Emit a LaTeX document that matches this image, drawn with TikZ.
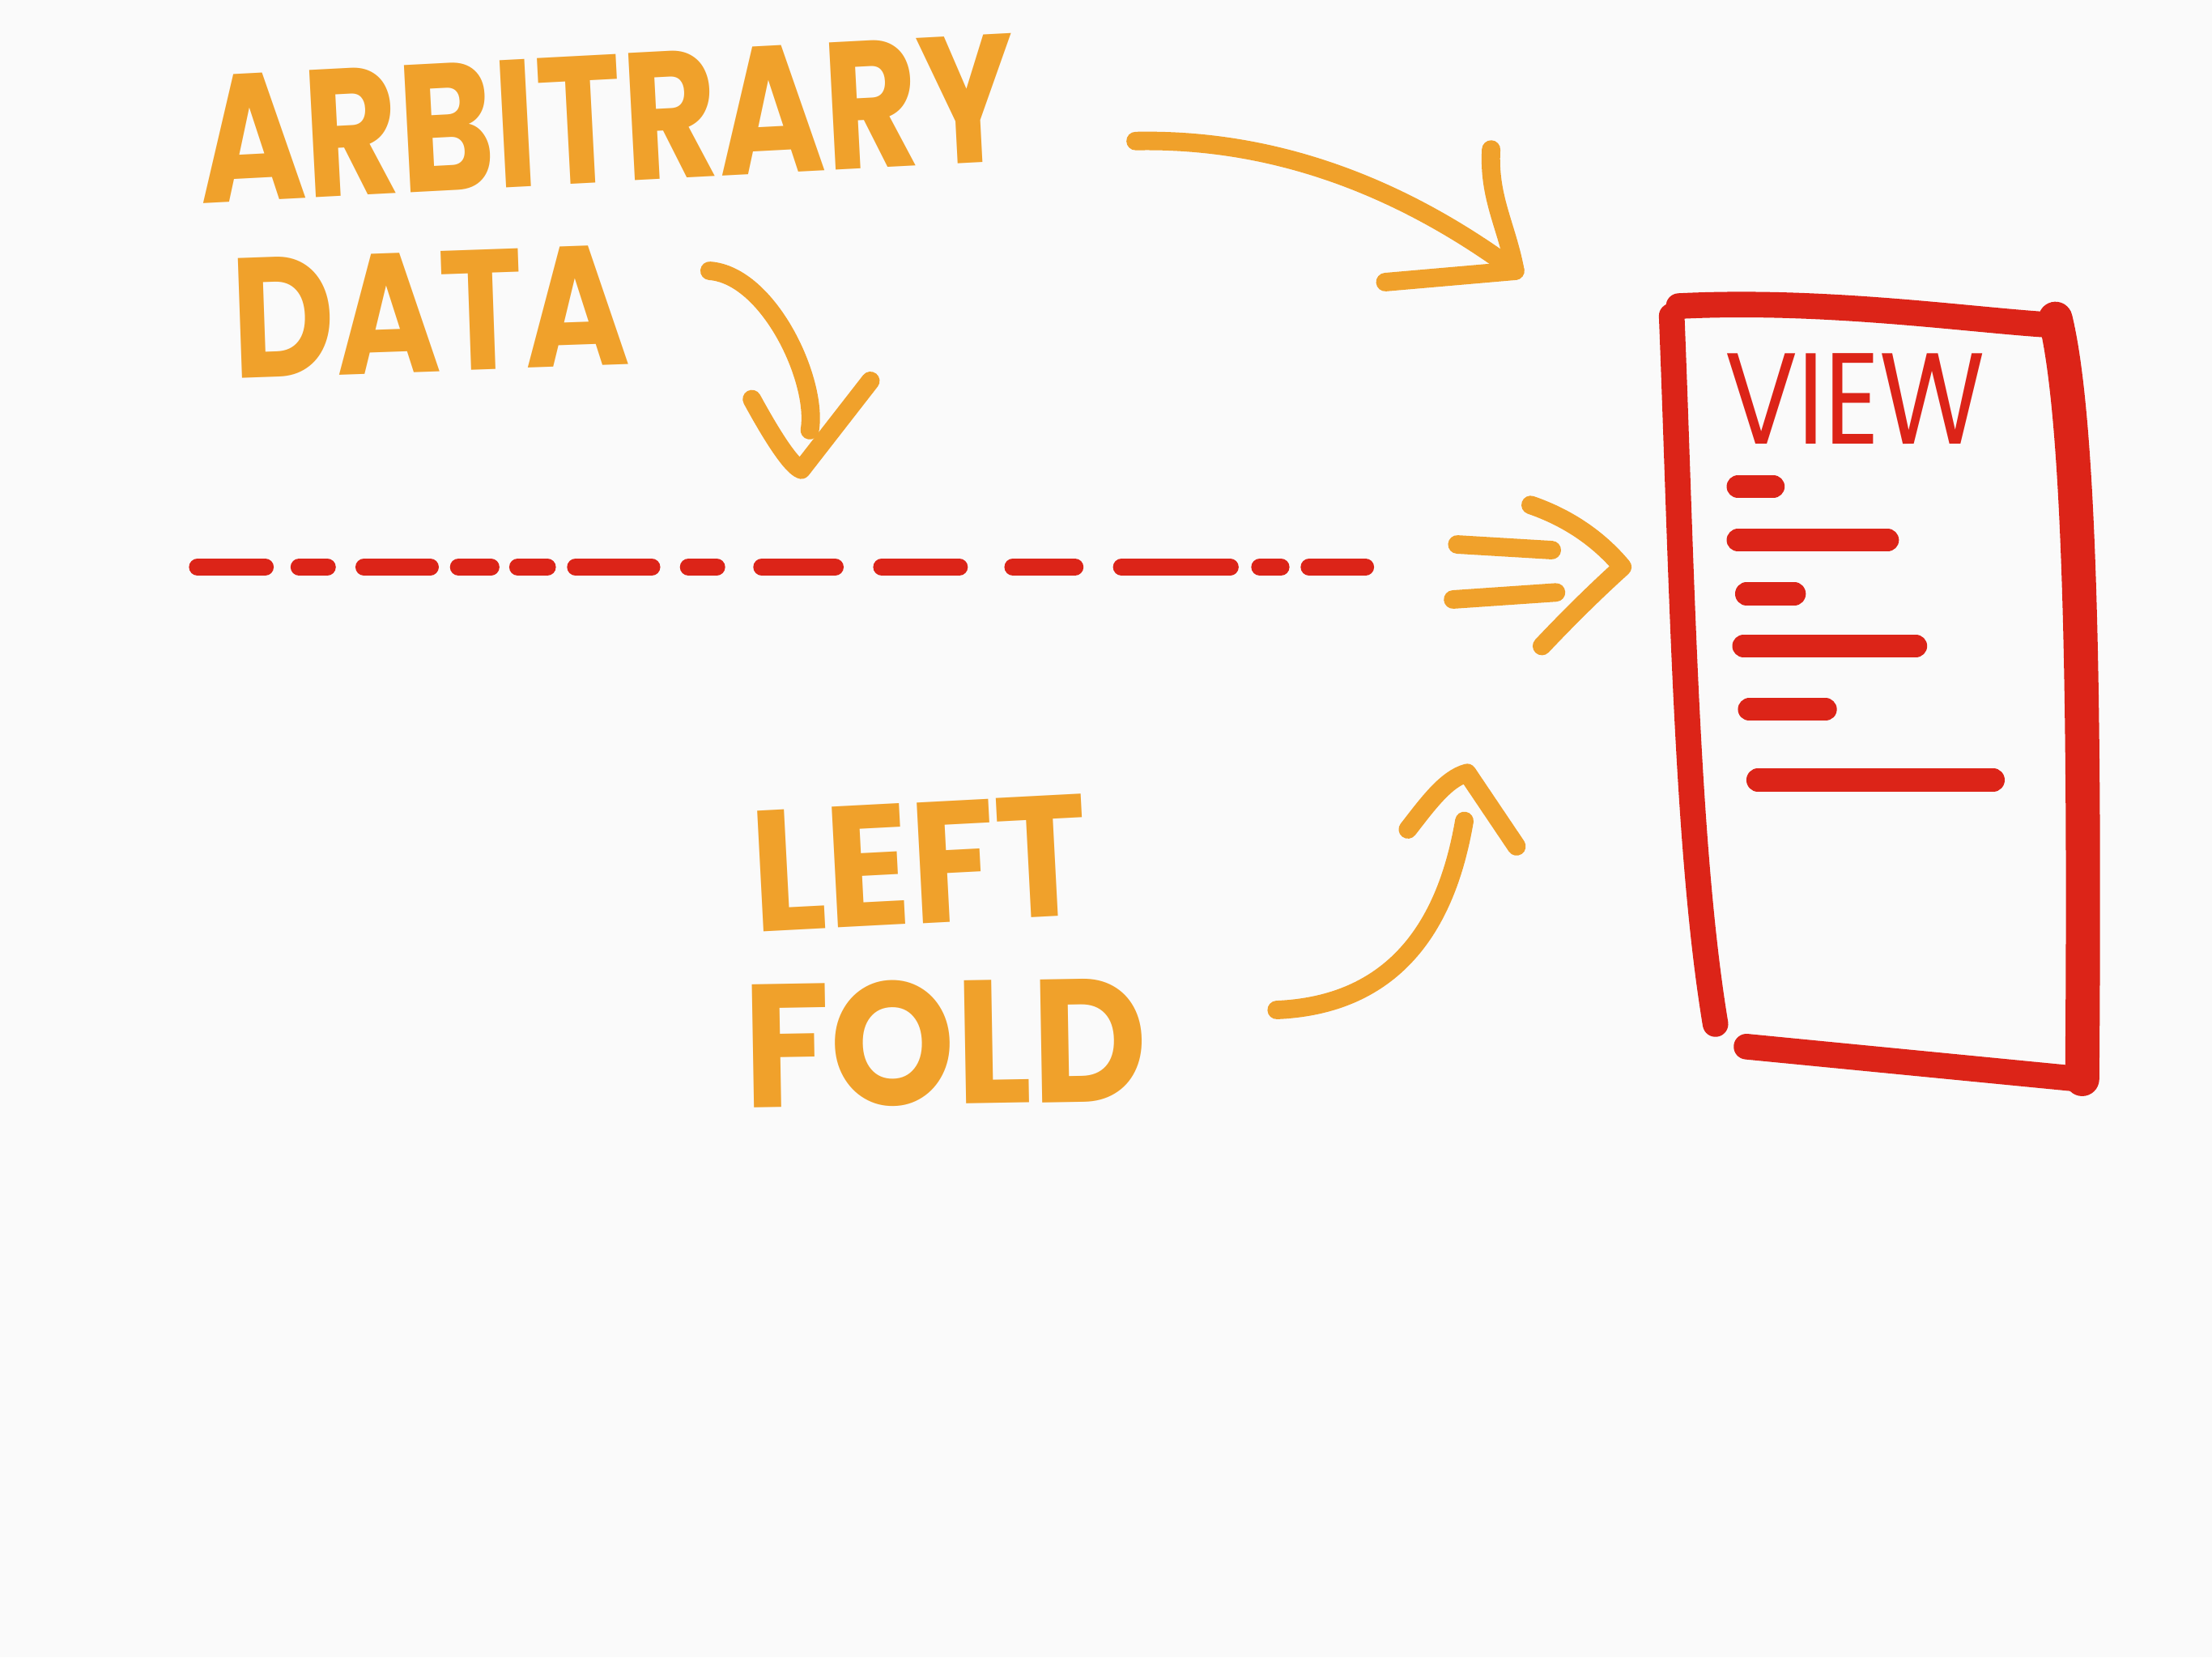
\documentclass[tikz,border=0pt]{standalone}
\usepackage{fontspec}
\setmainfont{Poppins}
\usetikzlibrary{calc}
\definecolor{paper}{HTML}{FAFAFA}
\definecolor{marker}{HTML}{F0A12B}
\definecolor{ink}{HTML}{DC2418}
\tikzset{
  word/.style={text=marker, inner sep=0pt},
  stroke/.style={draw=marker, line width=6.5pt, line cap=round, line join=round},
  dotline/.style={draw=ink, line width=6pt, line cap=round},
  bar/.style={draw=ink, line width=8pt, line cap=round},
  frame/.style={draw=ink, line width=9pt, line cap=round, line join=round}
}
\newcommand{\tall}[3]{\rotatebox{#1}{\scalebox{1}[#2]{#3}}}

\begin{document}
\begin{tikzpicture}[x=0.01742cm, y=-0.01742cm]
  \fill[paper] (0,0) rectangle (1568,1175);
  \useasboundingbox (0,0) rectangle (1568,1175);

  % labels
  \node[word, font=\fontsize{51}{51}\selectfont\bfseries] (arb) at (430,84) {\tall{3}{1.25}{ARBITRARY}};
  \node[word, font=\fontsize{50}{50}\selectfont\bfseries] (data) at (305,221) {\tall{2}{1.2}{DATA}};
  \node[word, font=\fontsize{55}{55}\selectfont\bfseries] (left) at (652,612) {\tall{3}{1.1}{LEFT}};
  \node[word, font=\fontsize{56}{56}\selectfont\bfseries] (fold) at (670,739) {\tall{1}{1.1}{FOLD}};
  \node[text=ink, font=\fontsize{38}{38}\selectfont, inner sep=0pt] (view) at (1315,283) {\scalebox{1}[1.2]{VIEW}};

  % view frame
  \draw[frame] (1190,217) .. controls (1290,212) and (1390,226) .. (1448,230);
  \draw[frame, line width=12pt] (1457,226) .. controls (1475,300) and (1478,500) .. (1476,765);
  \draw[frame] (1238,742) -- (1474,765);
  \draw[frame] (1185,224) .. controls (1192,400) and (1195,600) .. (1216,726);

  % lines inside the view
  \foreach \y/\a/\b in {345/1232/1257, 383/1232/1338, 421/1238/1272, 458/1236/1358, 503/1240/1294, 553/1246/1413}
    \draw[bar] (\a,\y) -- (\b,\y);

  % dashed data stream
  \foreach \a/\b in {140/188, 212/232, 258/305, 325/348, 367/388, 408/462, 488/508, 540/592, 625/680, 718/762, 795/872, 893/908, 928/968}
    \draw[dotline] (\a,402) -- (\b,402);

  % arrow arbitrary -> view
  \coordinate (t1) at (805,100);
  \coordinate (h1) at (1074,192);
  \draw[stroke] (t1) .. controls (900,98) and (990,130) .. (h1);
  \draw[stroke] (1057,106) .. controls (1055,140) and (1068,160) .. (h1) -- (982,200);

  % arrow data -> stream
  \coordinate (t2) at (503,192);
  \coordinate (h2) at (568,333);
  \draw[stroke] (t2) .. controls (545,195) and (580,270) .. (574,305);
  \draw[stroke] (533,283) .. controls (545,305) and (560,330) .. (h2) -- (617,270);

  % double arrow stream -> view
  \coordinate (h3) at (1150,402);
  \draw[stroke] (1033,386) -- (1100,390);
  \draw[stroke] (1030,425) -- (1103,420);
  \draw[stroke] (1085,358) .. controls (1120,370) and (1140,390) .. (h3) .. controls (1130,420) and (1110,440) .. (1093,458);

  % arrow left fold -> stream
  \coordinate (t4) at (905,716);
  \coordinate (h4) at (1040,548);
  \draw[stroke] (t4) .. controls (1000,712) and (1028,640) .. (1038,582);
  \draw[stroke] (998,588) .. controls (1012,570) and (1025,552) .. (h4) -- (1075,600);
\end{tikzpicture}
\end{document}
